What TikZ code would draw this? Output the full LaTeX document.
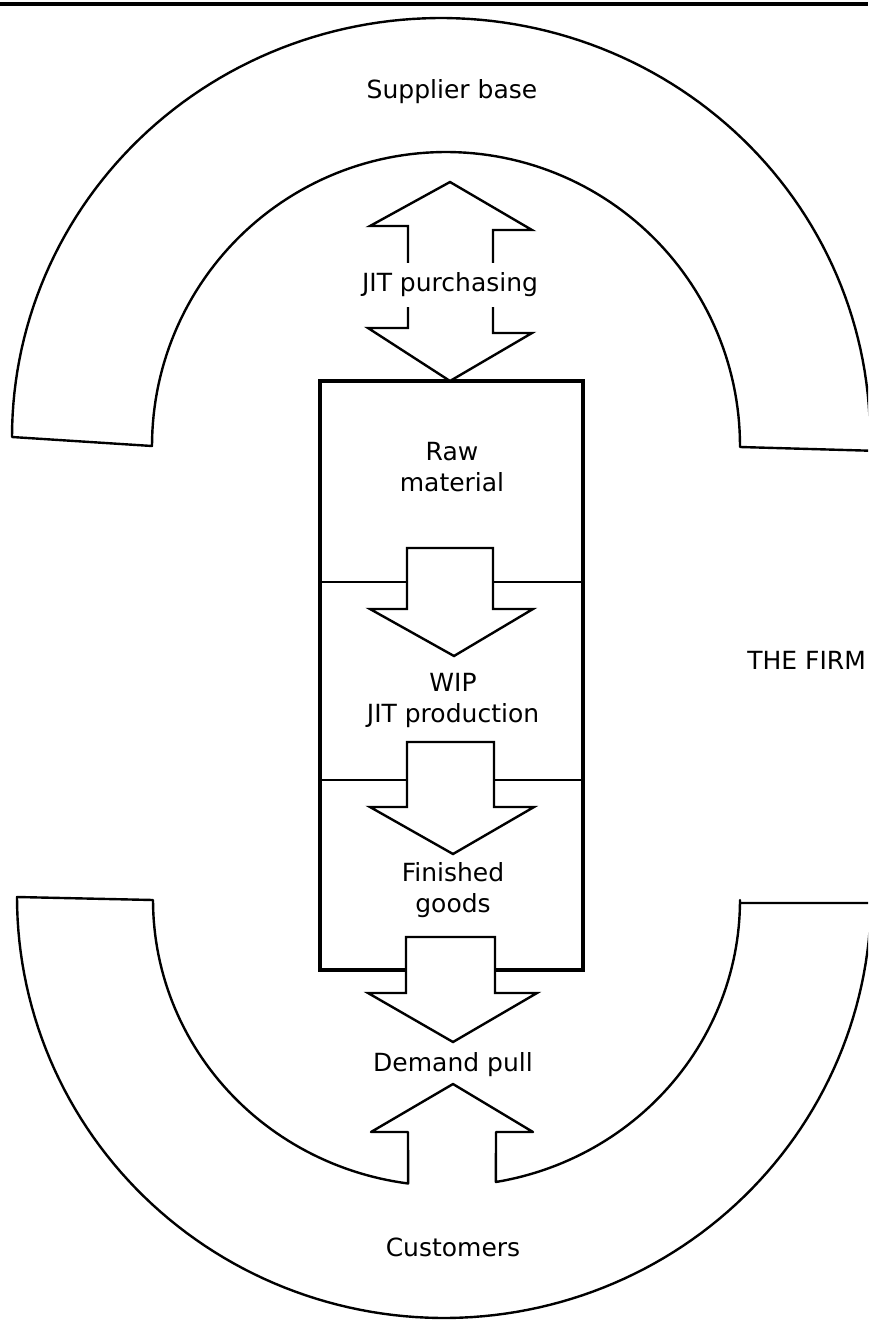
\documentclass[tikz,border=0pt]{standalone}
\usepackage{fontspec}
\setmainfont{DejaVu Sans}
\begin{document}
\begin{tikzpicture}[x=0.5pt,y=-0.5pt,
  lbl/.style={font=\fontsize{12.5}{15.5}\selectfont, inner sep=0pt, align=center},
  outline/.style={line width=1.2pt, line join=round},
  boxline/.style={line width=1.6pt},
  divline/.style={line width=1.1pt},
  blockarrow/.style={fill=white, draw, line width=1.2pt, line join=miter}]
\useasboundingbox (0,0) rectangle (868,1321);
\begin{scope}
\clip (0,0) rectangle (868,1321);
\draw[line width=1.6pt] (0,4) -- (868,4);
% supplier base (top C shape)
\draw[outline] (880,451) -- (740,447)
  -- plot[domain=0:-180,samples=120] ({446+294*cos(\x)},{446+294*sin(\x)})
  -- (12,437)
  -- plot[domain=180:360,samples=120] ({441+429*cos(\x)},{437+419*sin(\x)});
% customers (bottom C shape) with up arrow
\draw[outline] (880,903) -- (740,903)
  -- plot[domain=0:80.4,samples=60] ({447+293*cos(\x)},{900+286*sin(\x)})
  -- (496,1132) -- (533,1132) -- (453,1084) -- (371,1132) -- (408,1132)
  -- plot[domain=97.6:180,samples=60] ({447+294*cos(\x)},{900+286*sin(\x)})
  -- (17,897)
  -- plot[domain=180:0,samples=120] ({444+427*cos(\x)},{897+421*sin(\x)});
\end{scope}
% the firm box
\draw[boxline] (320,381) rectangle (583,970);
\draw[divline] (320,582) -- (583,582);
\draw[divline] (320,780) -- (583,780);
% double arrow (JIT purchasing)
\draw[blockarrow] (450,182) -- (532,230) -- (493,230) -- (493,333) -- (532,333)
  -- (450,381) -- (368,328) -- (408,328) -- (408,226) -- (370,226) -- cycle;
% internal arrows
\draw[blockarrow] (407,548) -- (493,548) -- (493,609) -- (533,609) -- (454,656)
  -- (370,609) -- (407,609) -- cycle;
\draw[blockarrow] (407,742) -- (494,742) -- (494,807) -- (534,807) -- (453,854)
  -- (370,807) -- (407,807) -- cycle;
\draw[blockarrow] (406,937) -- (495,937) -- (495,993) -- (537,993) -- (453,1042)
  -- (368,993) -- (406,993) -- cycle;
% labels
\node[lbl] (supplier) at (452,92) {Supplier base};
\node[lbl, fill=white, minimum height=22pt, inner xsep=2pt] (purch) at (450,285) {JIT purchasing};
\node[lbl] (raw) at (452,467) {Raw\\material};
\node[lbl] (wip) at (453,700) {WIP\\JIT production};
\node[lbl] (fin) at (453,890) {Finished\\goods};
\node[lbl] (demand) at (453,1065) {Demand pull};
\node[lbl] (cust) at (453,1247) {Customers};
\node[lbl, anchor=west] (firm) at (747,660) {THE FIRM};
\end{tikzpicture}
\end{document}
